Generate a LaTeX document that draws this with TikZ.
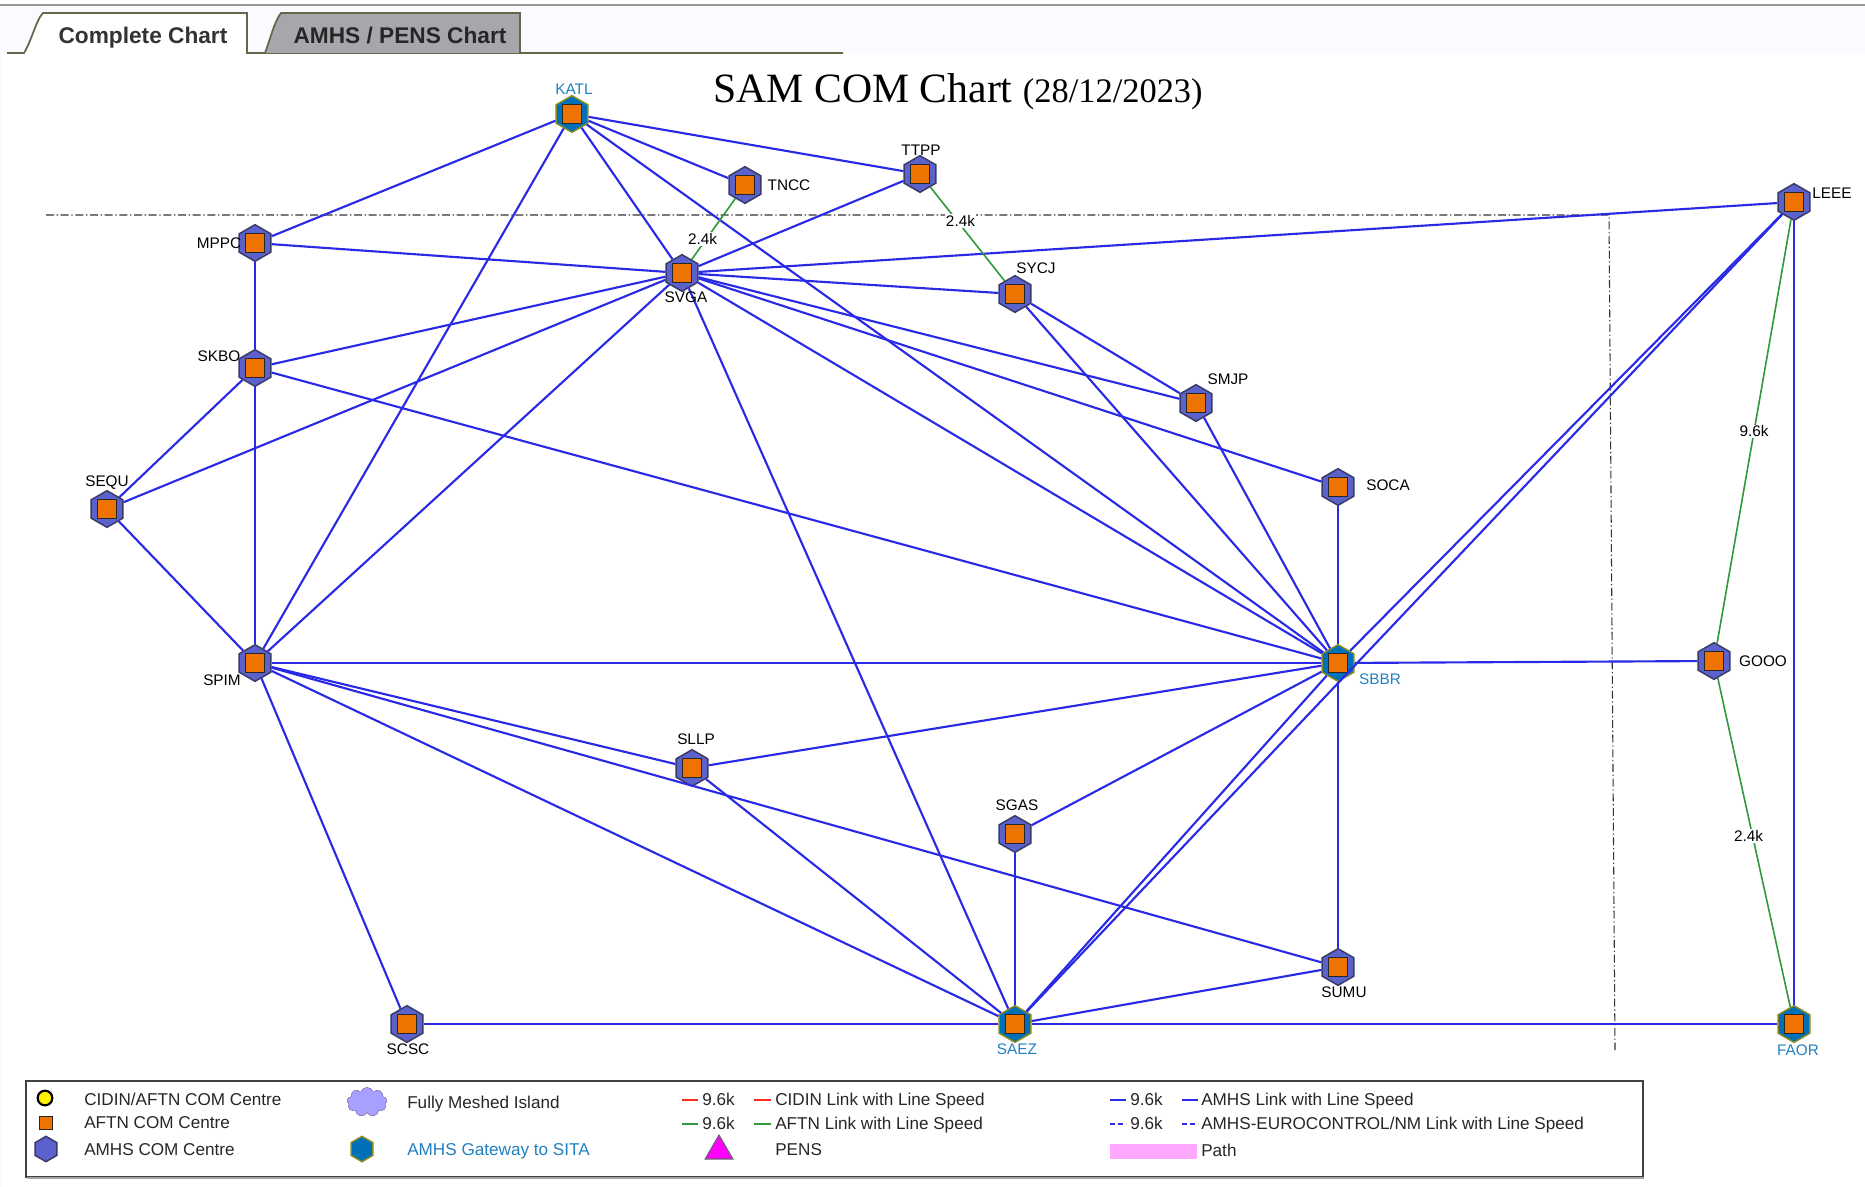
\documentclass[tikz,border=0pt]{standalone}
\usepackage{fontspec}
\setmainfont{Liberation Sans}
\newfontfamily\titlefont{Liberation Serif}
\usetikzlibrary{shapes.geometric,shapes.symbols}
\definecolor{Paper}{HTML}{FAFBFF}
\definecolor{TabLine}{HTML}{66664A}
\definecolor{TabGrey}{HTML}{A6A6AC}
\definecolor{Amhs}{HTML}{5B62CC}
\definecolor{AmhsEdge}{HTML}{3A3A66}
\definecolor{Gate}{HTML}{0070B8}
\definecolor{GateEdge}{HTML}{8A8A20}
\definecolor{Aftn}{HTML}{EE7300}
\definecolor{LinkBlue}{HTML}{2A2AE6}
\definecolor{LinkGreen}{HTML}{2E9A3C}
\definecolor{GateText}{HTML}{2080C0}
\definecolor{Island}{HTML}{A8A0FF}
\definecolor{PathPink}{HTML}{FFA8FF}
\definecolor{PensPink}{HTML}{FF00FF}
\tikzset{
  hexamhs/.style={regular polygon,regular polygon sides=6,shape border rotate=30,minimum size=27.5pt,inner sep=0pt,draw=AmhsEdge,line width=1.1pt,fill=Amhs},
  hexgate/.style={hexamhs,draw=GateEdge,fill=Gate},
  aftnbox/.style={rectangle,minimum size=14.5pt,inner sep=0pt,draw=black!85,line width=1.2pt,fill=Aftn},
  sitename/.style={font=\fontsize{11.5pt}{13pt}\selectfont,inner sep=0pt,yshift=-.4pt},
  gatename/.style={sitename,text=GateText},
  keytext/.style={font=\fontsize{12.85pt}{14pt}\selectfont,inner sep=0pt,anchor=west,text depth=0pt,text=black!85},
  tabname/.style={font=\bfseries\fontsize{17pt}{18pt}\selectfont,inner sep=0pt,anchor=base},
  amhslink/.style={draw=LinkBlue,line width=1.6pt},
  aftnlink/.style={draw=LinkGreen,line width=1.2pt},
  speed/.style={font=\fontsize{11.5pt}{13pt}\selectfont,fill=white,inner sep=1pt},
  region/.style={draw=black!80,line width=.8pt,dash pattern=on 6pt off 2pt on 1pt off 2pt}
}
\begin{document}
\begin{tikzpicture}[x=0.75pt,y=-0.75pt]
\useasboundingbox (0,0) rectangle (1865,1187);

% page strip and tabs
\fill [Paper] (0,6) rectangle (1865,53);
\fill [Paper] (0,53) rectangle (3,1187);
\draw [black!40,line width=1.6pt] (0,5) -- (1865,5);
\fill [white] (24,53) .. controls (32,40) and (36,20) .. (43,13) -- (247,13) -- (247,53) -- cycle;
\draw [TabLine,line width=1.3pt] (7,53) -- (24,53) .. controls (32,40) and (36,20) .. (43,13) -- (247,13) -- (247,53) -- (843,53);
\draw [TabLine,line width=1.3pt,fill=TabGrey] (265,53) .. controls (270,40) and (274,22) .. (281,13) -- (520,13) -- (520,53);
\node (tabcomplete) at (143,44) [tabname,text=black!80] {Complete Chart};
\node (tabamhs) at (400,44) [tabname,text=black!85] {AMHS / PENS Chart};

\node (charttitle) at (958,92) [inner sep=0pt] {\titlefont\fontsize{31.3pt}{34pt}\selectfont SAM COM Chart \fontsize{25.8pt}{34pt}\selectfont(28/12/2023)};

% region boundary
\coordinate (regionw) at (46,215);
\coordinate (regionc) at (1609,215);
\coordinate (regions) at (1615,1050);
\draw [region] (regionw) -- (regionc) -- (regions);

% centres
\foreach \site/\x/\y in {TNCC/745/185,TTPP/920/174,MPPC/255/243,SVGA/682/273,SYCJ/1015/294,SKBO/255/368,SMJP/1196/403,SOCA/1338/487,SEQU/107/509,SPIM/255/663,GOOO/1714/661,LEEE/1794/202,SLLP/692/768,SGAS/1015/834,SUMU/1338/967,SCSC/407/1024}
  \node (\site) at (\x,\y) [hexamhs] {};
\foreach \site/\x/\y in {KATL/572/114,SBBR/1338/663,SAEZ/1015/1024,FAOR/1794/1024}
  \node (\site) at (\x,\y) [hexgate] {};
\foreach \site in {KATL,TNCC,TTPP,MPPC,SVGA,SYCJ,SKBO,SMJP,SOCA,SEQU,SPIM,SBBR,GOOO,LEEE,SLLP,SGAS,SUMU,SCSC,SAEZ,FAOR}
  \node (\site box) at (\site) [aftnbox] {};

% links
\foreach \from/\to in {KATL/MPPC,KATL/TNCC,KATL/TTPP,KATL/SVGA,KATL/SPIM,KATL/SBBR,TTPP/SVGA,MPPC/SVGA,MPPC/SKBO,SKBO/SVGA,SKBO/SEQU,SKBO/SBBR,SKBO/SPIM,SVGA/SEQU,SVGA/SPIM,SVGA/SYCJ,SVGA/SMJP,SVGA/SOCA,SVGA/SBBR,SVGA/SAEZ,SVGA/LEEE,SYCJ/SMJP,SYCJ/SBBR,SMJP/SBBR,SOCA/SBBR,SEQU/SPIM,SPIM/SBBR,SPIM/SLLP,SPIM/SUMU,SPIM/SAEZ,SPIM/SCSC,SLLP/SBBR,SLLP/SAEZ,SGAS/SBBR,SGAS/SAEZ,SBBR/SUMU,SBBR/SAEZ,SBBR/LEEE,SBBR/GOOO,SAEZ/LEEE,SUMU/SAEZ,SCSC/SAEZ,SAEZ/FAOR,LEEE/FAOR}
  \draw [amhslink] (\from) -- (\to);
\draw [aftnlink] (TNCC) -- node [speed,pos=.66,xshift=-3pt] (speedtncc) {2.4k} (SVGA);
\draw [aftnlink] (TTPP) -- node [speed,pos=.36,xshift=2.5pt] (speedttpp) {2.4k} (SYCJ);
\draw [aftnlink] (LEEE) -- node [speed,pos=.5] (speedleee) {9.6k} (GOOO);
\draw [aftnlink] (GOOO) -- node [speed,pos=.48,xshift=-3pt] (speedgooo) {2.4k} (FAOR);

% names
\foreach \site/\x/\y in {TNCC/789/185,TTPP/921/150,MPPC/219/243,SVGA/686/297,SYCJ/1036/268,SKBO/219/356,SMJP/1228/379,SOCA/1388/485,SEQU/107/482,SPIM/222/680,GOOO/1763/661,LEEE/1832/193,SLLP/696/739,SGAS/1017/805,SUMU/1344/992,SCSC/408/1049}
  \node (\site name) at (\x,\y) [sitename] {\site};
\foreach \site/\x/\y in {KATL/574/89,SBBR/1380/679,SAEZ/1017/1049,FAOR/1798/1050}
  \node (\site name) at (\x,\y) [gatename] {\site};

% key
\draw [black!75,line width=1.2pt] (26,1081) rectangle (1643,1177);
\draw [black!35,line width=1pt] (27,1178) -- (1644,1178);
\node (keycidin) at (45,1098) [circle,minimum size=11pt,inner sep=0pt,draw=black,line width=1.6pt,fill=yellow] {};
\node (keyaftn) at (46,1123) [aftnbox,minimum size=10pt,line width=.8pt] {};
\node (keyamhs) at (46,1149) [hexamhs,minimum size=19pt] {};
\node (keyisland) at (367,1102) [cloud,cloud puffs=9,aspect=1.4,minimum width=30pt,minimum height=22pt,inner sep=0pt,draw=Island!70!black,fill=Island] {};
\node (keygate) at (362,1149) [hexgate,minimum size=19pt] {};
\node (keypens) at (719,1151) [regular polygon,regular polygon sides=3,minimum size=24pt,inner sep=0pt,draw=black!60,line width=.8pt,fill=PensPink] {};
\fill [PathPink] (1110,1144) rectangle (1197,1159);
\foreach \col/\xa/\xb/\y in {red!85/682/698/1100,red!85/754/771/1100,LinkGreen/682/698/1124,LinkGreen/754/771/1124,LinkBlue/1110/1126/1100,LinkBlue/1182/1198/1100}
  \draw [\col,line width=1.2pt] (\xa,\y) -- (\xb,\y);
\draw [LinkBlue,line width=1.4pt,dash pattern=on 4pt off 2pt] (1110,1124) -- (1126,1124);
\draw [LinkBlue,line width=1.4pt,dash pattern=on 4pt off 2pt] (1182,1124) -- (1198,1124);
\foreach \id/\x/\y/\txt in {a/84/1099/{CIDIN/AFTN COM Centre},b/84/1123/{AFTN COM Centre},c/84/1150/{AMHS COM Centre},d/407/1102/{Fully Meshed Island},e/702/1099/{9.6k},f/775/1099/{CIDIN Link with Line Speed},g/702/1123/{9.6k},h/775/1123/{AFTN Link with Line Speed},i/775/1150/{PENS},j/1130/1099/{9.6k},k/1201/1099/{AMHS Link with Line Speed},l/1130/1123/{9.6k},m/1201/1123/{AMHS-EUROCONTROL/NM Link with Line Speed},n/1201/1150/{Path}}
  \node (key\id) at (\x,\y) [keytext] {\txt};
\node (keyo) at (407,1150) [keytext,text=GateText] {AMHS Gateway to SITA};
\end{tikzpicture}
\end{document}
